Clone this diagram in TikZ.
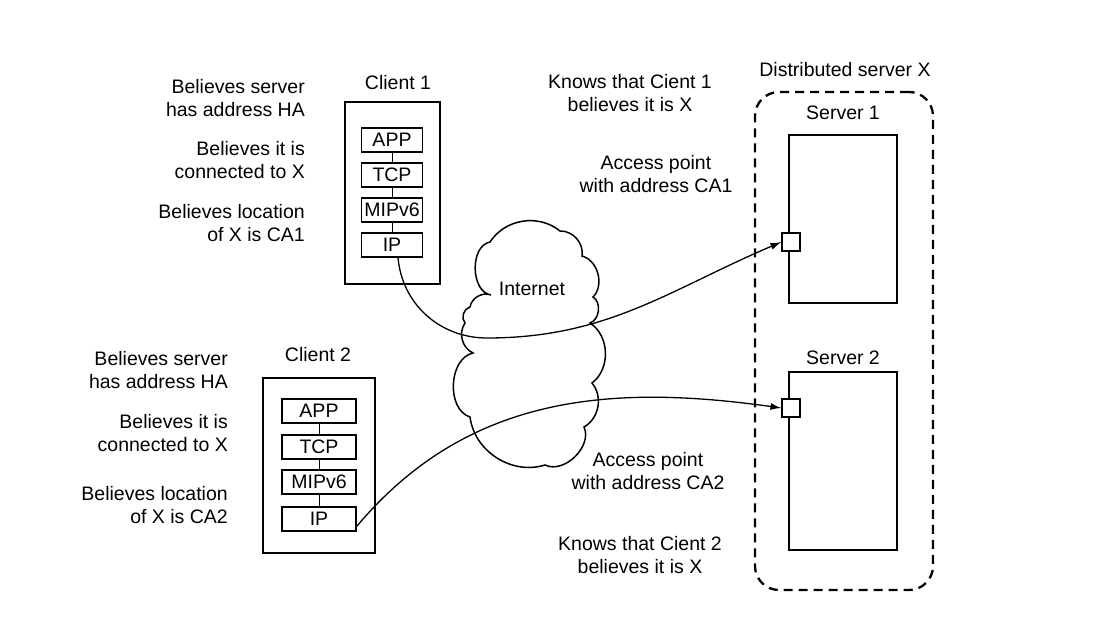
\documentclass[tikz,border=0pt]{standalone}
\usepackage{fontspec}
\setmainfont{Liberation Sans}
\usetikzlibrary{arrows.meta}
\begin{document}
\begin{tikzpicture}[x=1pt,y=1pt,
  txt/.style={font=\fontsize{19.5}{23}\selectfont, inner sep=0pt},
  lblr/.style={txt, align=right, anchor=east},
  lblc/.style={txt, align=center},
  outerbox/.style={draw, line width=2pt, inner sep=0pt},
  layer/.style={draw, line width=1.1pt, minimum height=24pt, inner sep=0pt, font=\fontsize{19.5}{23}\selectfont},
  srvbox/.style={draw, line width=1.9pt, minimum width=108pt, inner sep=0pt},
  apbox/.style={draw, fill=white, line width=1.1pt, minimum size=18pt, inner sep=0pt},
  cloudline/.style={line width=1.5pt},
  conn/.style={line width=1.3pt},
  arr/.style={conn, -{Latex[length=11pt,width=7pt]}},
  dist/.style={draw, line width=2.3pt, dash pattern=on 9pt off 6pt, rounded corners=24pt}
]
\useasboundingbox (0,0) rectangle (1114,-626);

% ---------- Client 1 ----------
\node[lblc] (c1t) at (398,-83) {Client 1};
\node[outerbox, minimum width=95pt, minimum height=182pt] (c1) at (392.5,-193) {};
\node[layer, minimum width=61pt] (app1) at (392,-140) {APP};
\node[layer, minimum width=61pt] (tcp1) at (392,-175) {TCP};
\node[layer, minimum width=61pt] (mip1) at (392,-210) {MIPv6};
\node[layer, minimum width=61pt] (ip1) at (392,-245) {IP};
\draw[line width=0.8pt] (app1) -- (tcp1) (tcp1) -- (mip1) (mip1) -- (ip1);

\node[lblr] (l11) at (305,-98) {Believes server\\has address HA};
\node[lblr] (l12) at (305,-160.5) {Believes it is\\connected to X};
\node[lblr] (l13) at (305,-223) {Believes location\\of X is CA1};

% ---------- Client 2 ----------
\node[lblc] (c2t) at (318,-355) {Client 2};
\node[outerbox, minimum width=112pt, minimum height=175pt] (c2) at (319,-465.5) {};
\node[layer, minimum width=74pt] (app2) at (319,-411) {APP};
\node[layer, minimum width=74pt] (tcp2) at (319,-447) {TCP};
\node[layer, minimum width=74pt] (mip2) at (319,-482) {MIPv6};
\node[layer, minimum width=74pt] (ip2) at (319,-519) {IP};
\draw[line width=0.8pt] (app2) -- (tcp2) (tcp2) -- (mip2) (mip2) -- (ip2);

\node[lblr] (l21) at (228,-370) {Believes server\\has address HA};
\node[lblr] (l22) at (228,-433.5) {Believes it is\\connected to X};
\node[lblr] (l23) at (228,-505.5) {Believes location\\of X is CA2};

% ---------- Internet cloud ----------
\draw[cloudline] (491,-295) to[bend left=80] (490,-242) to[bend left=48] (560,-231)
  to[bend left=50] (582,-256) to[bend left=60] (593,-297) to[bend left=65] (590,-323)
  to[bend left=55] (592,-383) to[bend left=50] (584,-427) to[bend left=70] (545,-465)
  to[bend left=50] (470,-417) to[bend left=75] (473,-353) to[bend left=50] (465,-323)
  to[bend left=60] (470,-307) to[bend left=50] (491,-295) -- cycle;
\node[lblc] (inet) at (532,-289) {Internet};

% ---------- Distributed server ----------
\node[lblc] (dst) at (845,-70) {Distributed server X};
\node[dist, minimum width=178pt, minimum height=498pt] (dbox) at (844,-341) {};
\node[lblc] (s1t) at (843,-113) {Server 1};
\node[srvbox, minimum height=168pt] (s1) at (843,-219) {};
\node[apbox] (ap1) at (791,-242) {};
\node[lblc] (s2t) at (843,-358) {Server 2};
\node[srvbox, minimum height=178pt] (s2) at (843,-461) {};
\node[apbox] (ap2) at (791,-408) {};

% ---------- Server-side labels ----------
\node[lblc] (k1) at (630,-93) {Knows that Cient 1\\believes it is X};
\node[lblc] (a1) at (656,-174) {Access point\\with address CA1};
\node[lblc] (a2) at (648,-471.5) {Access point\\with address CA2};
\node[lblc] (k2) at (640,-555) {Knows that Cient 2\\believes it is X};

% ---------- Connections ----------
\coordinate (m1) at (487,-338);
\draw[arr] ([xshift=6pt]ip1.south) to[out=-85,in=180] (m1) to[out=0,in=203] (ap1.west);
\draw[arr] ([yshift=5pt]ip2.south east) to[out=50,in=172] (ap2.west);
\end{tikzpicture}
\end{document}
